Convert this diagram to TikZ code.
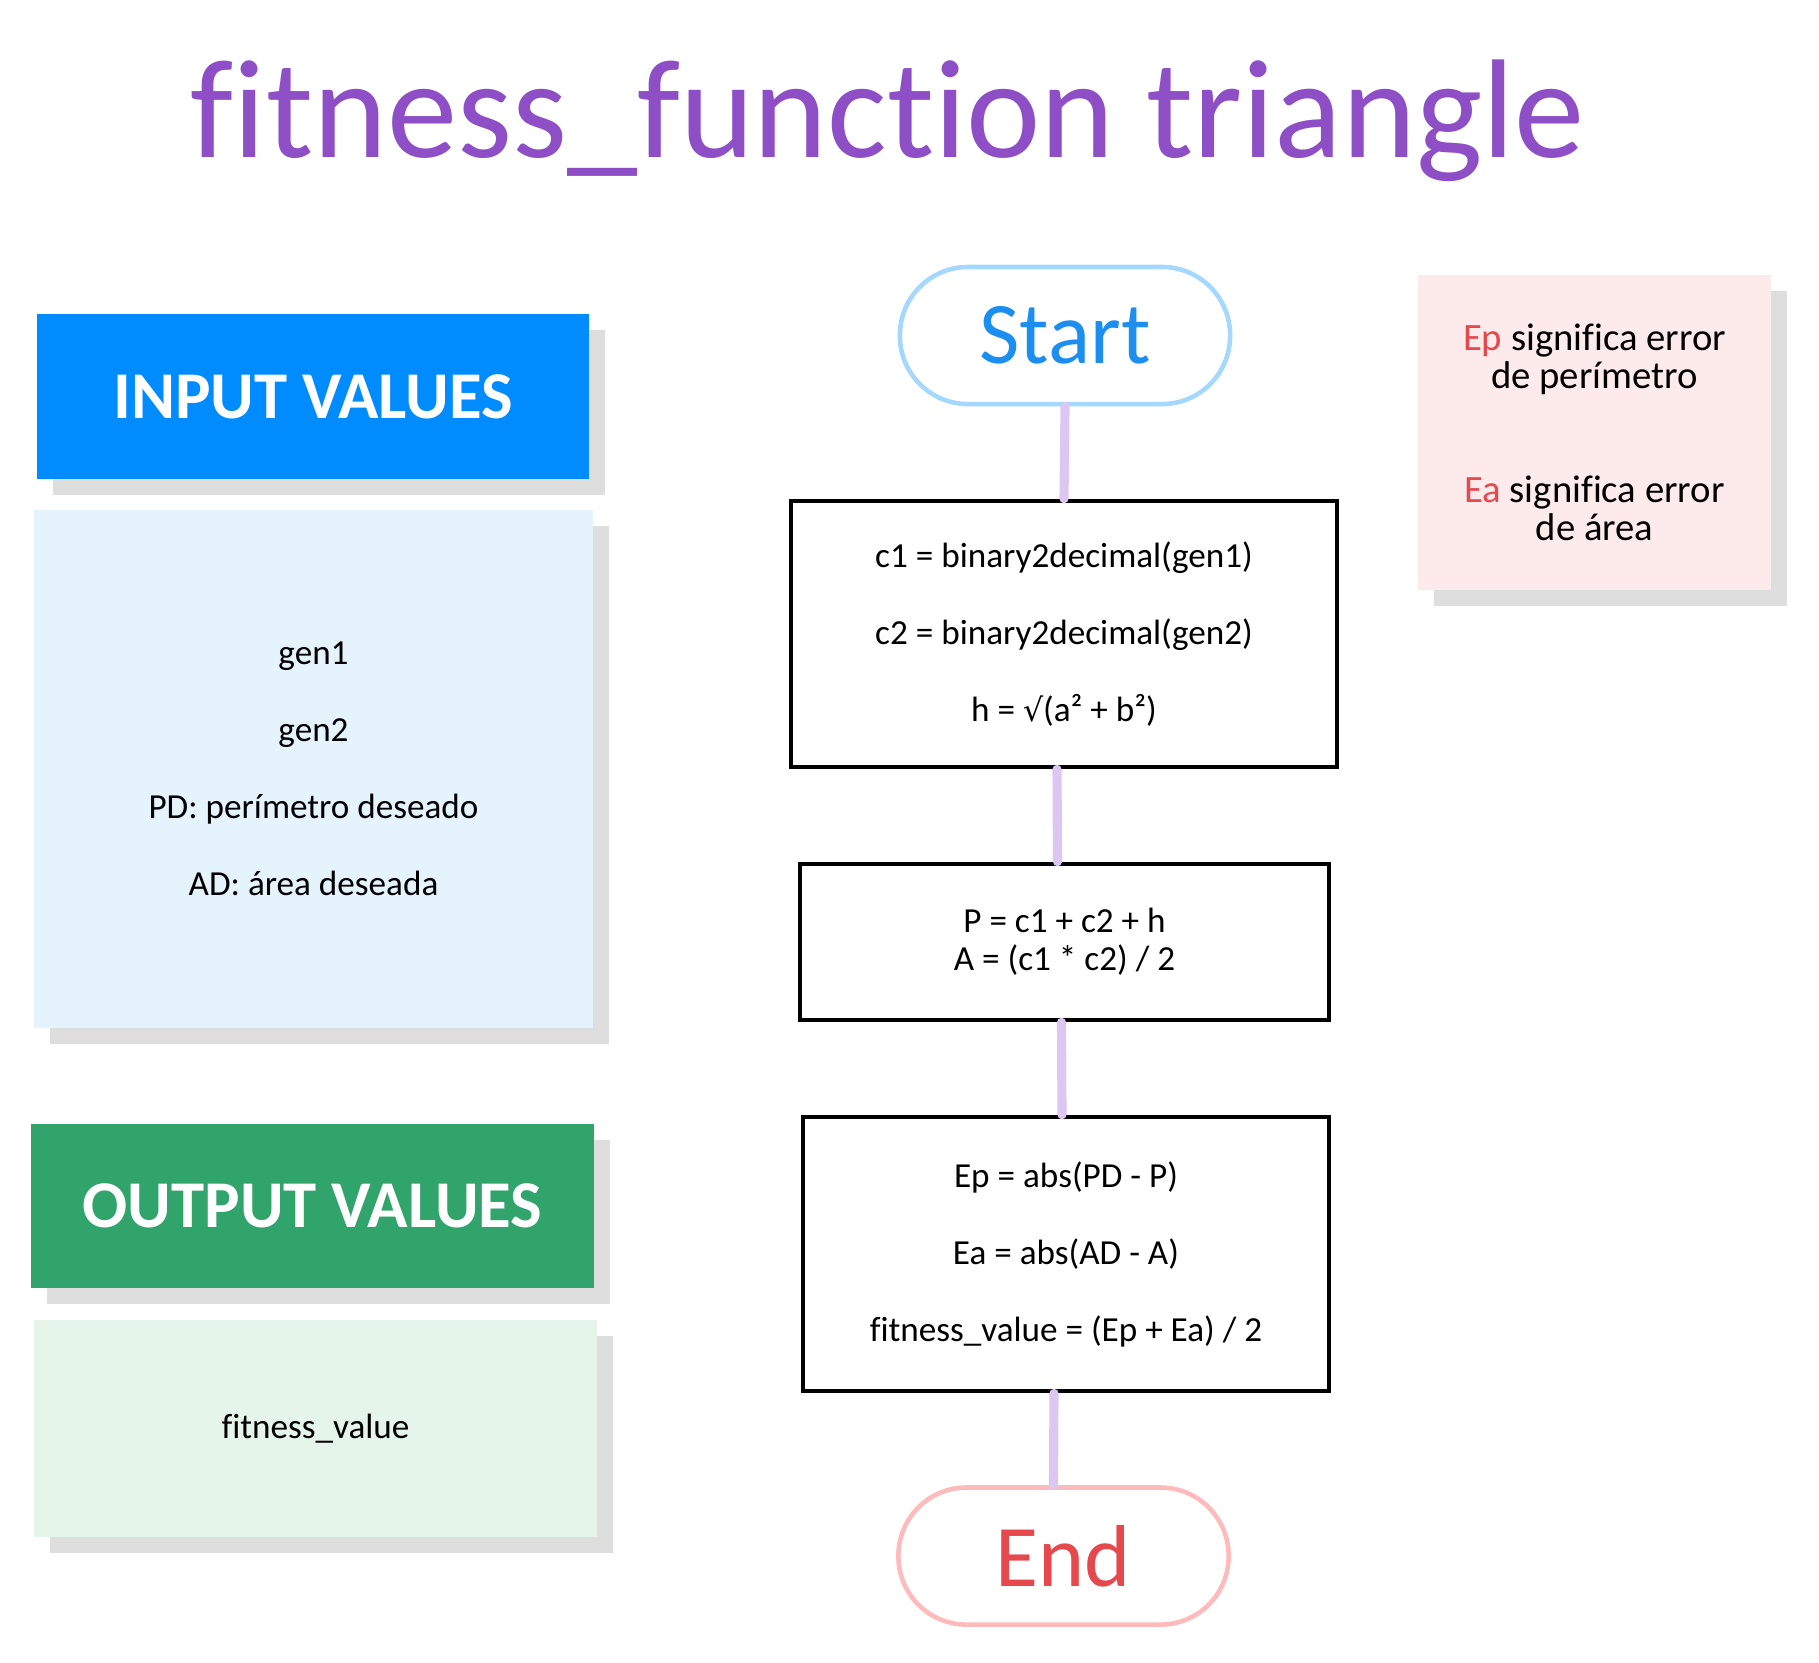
\documentclass[tikz,border=0pt]{standalone}
\usepackage{fontspec}
\setmainfont{Carlito}[Ligatures={NoCommon}]
\newfontfamily\symfont{DejaVu Sans}
\usepackage{tikz}
\usetikzlibrary{shapes,calc,positioning,shadows}
\definecolor{titlepurple}{HTML}{8E4FC6}
\definecolor{inblue}{HTML}{008CFF}
\definecolor{inlight}{HTML}{E5F3FC}
\definecolor{outgreen}{HTML}{31A46C}
\definecolor{outlight}{HTML}{E5F5EA}
\definecolor{notepink}{HTML}{FDEAEA}
\definecolor{shadowgray}{HTML}{DEDEDE}
\definecolor{startblue}{HTML}{A5D8FF}
\definecolor{starttext}{HTML}{1C8EF0}
\definecolor{endpink}{HTML}{FFBBBB}
\definecolor{endred}{HTML}{E5484D}
\definecolor{linkpurple}{HTML}{DCC6F2}

\begin{document}
\begin{tikzpicture}[x=0.01cm,y=-0.01cm,
    shadowed/.style={drop shadow={shadow xshift=0.16cm,shadow yshift=-0.16cm,opacity=1,fill=shadowgray}},
    panel/.style={rectangle,inner sep=0pt,align=center,shadowed},
    heading/.style={panel,text=white,font=\bfseries\fontsize{19}{23}\selectfont},
    stepbox/.style={rectangle,draw=black,line width=1.3pt,fill=white,inner sep=0pt,align=center},
    terminal/.style={rectangle,rounded corners=0.68cm,line width=1.3pt,fill=white,
      minimum width=3.3cm,minimum height=1.37cm,inner sep=0pt,font=\fontsize{25}{30}\selectfont},
    link/.style={draw=linkpurple,line width=2.6pt,line cap=round}]
        \def\body{\fontsize{10}{21.9}\selectfont}
        %Page
        \fill[white] (0,0) rectangle (1819,1662);
        \useasboundingbox (0,0) rectangle (1819,1662);
        %Title
        \node[anchor=base,text=titlepurple,font=\fontsize{40}{48}\selectfont] (title) at (888,157) {fitness\_function triangle};
        %Left panels
        \node[heading,fill=inblue,minimum width=5.52cm,minimum height=1.65cm] (inhead) at (313,396.5) {INPUT VALUES};
        \node[panel,fill=inlight,minimum width=5.59cm,minimum height=5.18cm,font=\body] (inbody) at (313.5,769)
          {gen1\\gen2\\PD: perímetro deseado\\AD: área deseada};
        \node[heading,fill=outgreen,minimum width=5.63cm,minimum height=1.64cm] (outhead) at (312.5,1206) {OUTPUT VALUES};
        \node[panel,fill=outlight,minimum width=5.63cm,minimum height=2.17cm,font=\body] (outbody) at (315.5,1428.5)
          {fitness\_value};
        %Note
        \node[panel,fill=notepink,minimum width=3.53cm,minimum height=3.15cm,font=\fontsize{11}{10.8}\selectfont] (note) at (1594.5,432.5)
          {\textcolor{endred}{Ep} significa error\\de perímetro\\[21.6pt]\textcolor{endred}{Ea} significa error\\de área};
        %Flow
        \node[terminal,draw=startblue,text=starttext] (start) at (1065,335.5) {Start};
        \node[stepbox,minimum width=5.46cm,minimum height=2.66cm,font=\body] (conv) at (1064,634)
          {c1 = binary2decimal(gen1)\\c2 = binary2decimal(gen2)\\h = {\symfont\fontsize{9}{10}\selectfont √}(a² + b²)};
        \node[stepbox,minimum width=5.29cm,minimum height=1.56cm,font=\fontsize{10}{10.8}\selectfont] (geom) at (1064.5,942)
          {P = c1 + c2 + h\\A = (c1 * c2) / 2};
        \node[stepbox,minimum width=5.26cm,minimum height=2.74cm,font=\body] (err) at (1066,1254)
          {Ep = abs(PD - P)\\Ea = abs(AD - A)\\fitness\_value = (Ep + Ea) / 2};
        \node[terminal,draw=endpink,text=endred] (end) at (1063.5,1556) {End};
        %Links
        \draw[link] (start.south) -- (conv.north);
        \draw[link] ([xshift=-0.07cm]conv.south) -- ([xshift=-0.07cm]geom.north);
        \draw[link] ([xshift=-0.03cm]geom.south) -- ([xshift=-0.04cm]err.north);
        \draw[link] ([xshift=-0.12cm]err.south) -- ([xshift=-0.10cm]end.north);
      \end{tikzpicture}
\end{document}
